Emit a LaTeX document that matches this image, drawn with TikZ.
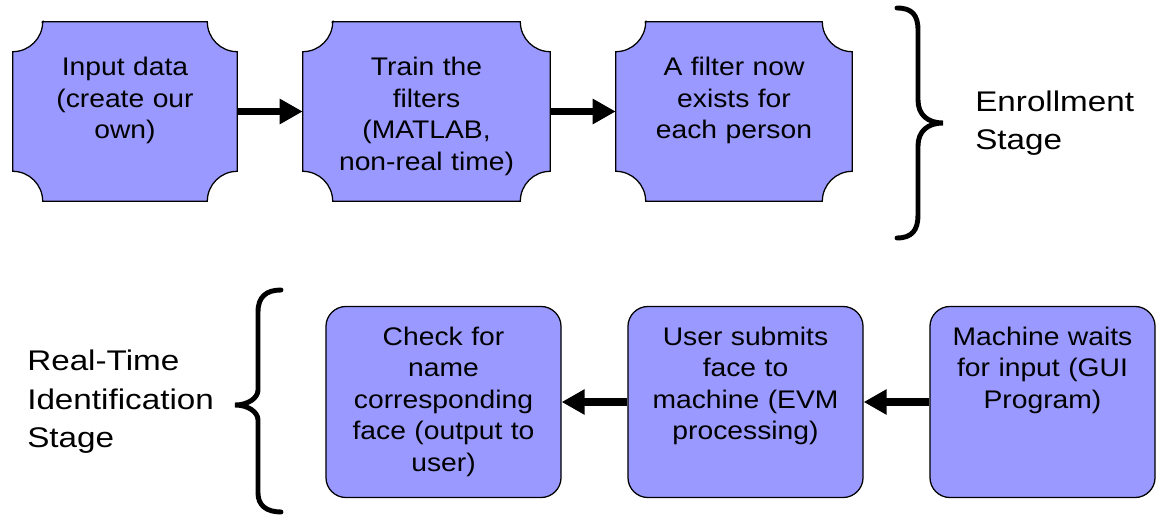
\documentclass[tikz,border=0pt]{standalone}
\usepackage{fontspec}
\setmainfont{Liberation Sans}
\newfontfamily\boxfont{Liberation Sans}[FakeStretch=1.11]
\newfontfamily\stagefont{Liberation Sans}[FakeStretch=1.17]
\usetikzlibrary{arrows.meta, backgrounds, calc}
\definecolor{boxblue}{RGB}{153,153,255}

\begin{document}
\begin{tikzpicture}[
    x=0.025cm, y=0.025cm,
    plaque/.style={
        rectangle,
        inner sep=0pt,
        align=center,
        text height=1.35cm,
        text depth=3.125cm,
        font=\boxfont\fontsize{18.1}{22.4}\selectfont
    },
    plaque line/.style={draw=black, fill=boxblue, line width=0.9pt},
    stepbox/.style={
        rectangle,
        draw=black,
        fill=boxblue,
        line width=0.9pt,
        rounded corners=0.5cm,
        inner sep=0pt,
        align=center,
        text width=5.875cm,
        text height=0.975cm,
        text depth=3.8cm,
        font=\boxfont\fontsize{18.1}{22.4}\selectfont
    },
    flow/.style={-{Triangle[length=0.575cm, width=0.6cm]}, line width=0.19cm},
    brace line/.style={line width=3.5pt, line cap=round},
    stage/.style={align=left, inner sep=0pt, font=\stagefont\fontsize{20.2}{27.4}\selectfont}
]
\useasboundingbox (0,0) rectangle (1156,515);

% === Enrollment row ===
\node[plaque, text width=5.6cm] (input) at (125,403.5) {Input data\\(create our\\own)};
\node[plaque, text width=6.175cm] (train) at (426.5,403.5) {Train the\\filters\\(MATLAB,\\non-real time)};
\node[plaque, text width=5.9cm] (filter) at (734,403.5) {A filter now\\exists for\\each person};

% plaque outlines with concave corners, behind the text
\begin{scope}[on background layer]
\foreach \n in {input, train, filter}
    \draw[plaque line] ($(\n.north west)+(30,0)$) -- ($(\n.north east)+(-30,0)$)
        arc[start angle=180, end angle=270, radius=0.75cm]
        -- ($(\n.south east)+(0,30)$)
        arc[start angle=90, end angle=180, radius=0.75cm]
        -- ($(\n.south west)+(30,0)$)
        arc[start angle=0, end angle=90, radius=0.75cm]
        -- ($(\n.north west)+(0,-30)$)
        arc[start angle=270, end angle=360, radius=0.75cm]
        -- cycle;
\end{scope}

\draw[flow] (input) -- (train);
\draw[flow] (train) -- (filter);

\draw[brace line] (897,507) .. controls (912,507) and (918,500) .. (918,485)
    -- (918,415) .. controls (918,400) and (928,392) .. (943,392)
    .. controls (928,392) and (918,384) .. (918,369)
    -- (918,300) .. controls (918,285) and (912,277) .. (897,277);
\node[stage, anchor=west] (enroll) at (975,392) {Enrollment\\Stage};

% === Real-time row ===
\node[stepbox] (check) at (443.5,113) {Check for\\name\\corresponding\\face (output to\\user)};
\node[stepbox] (submit) at (745.5,113) {User submits\\face to\\machine (EVM\\processing)};
\node[stepbox, text width=5.625cm] (wait) at (1042.5,113) {Machine waits\\for input (GUI\\Program)};

\draw[flow] (wait) -- (submit);
\draw[flow] (submit) -- (check);

\draw[brace line] (281,225) .. controls (266,225) and (258,218) .. (258,203)
    -- (258,125) .. controls (258,117) and (248,110) .. (235,110)
    .. controls (248,110) and (258,103) .. (258,95)
    -- (258,22) .. controls (258,10) and (266,3) .. (281,3);
\node[stage, anchor=west] (realtime) at (27,113) {Real-Time\\Identification\\Stage};

\end{tikzpicture}
\end{document}
